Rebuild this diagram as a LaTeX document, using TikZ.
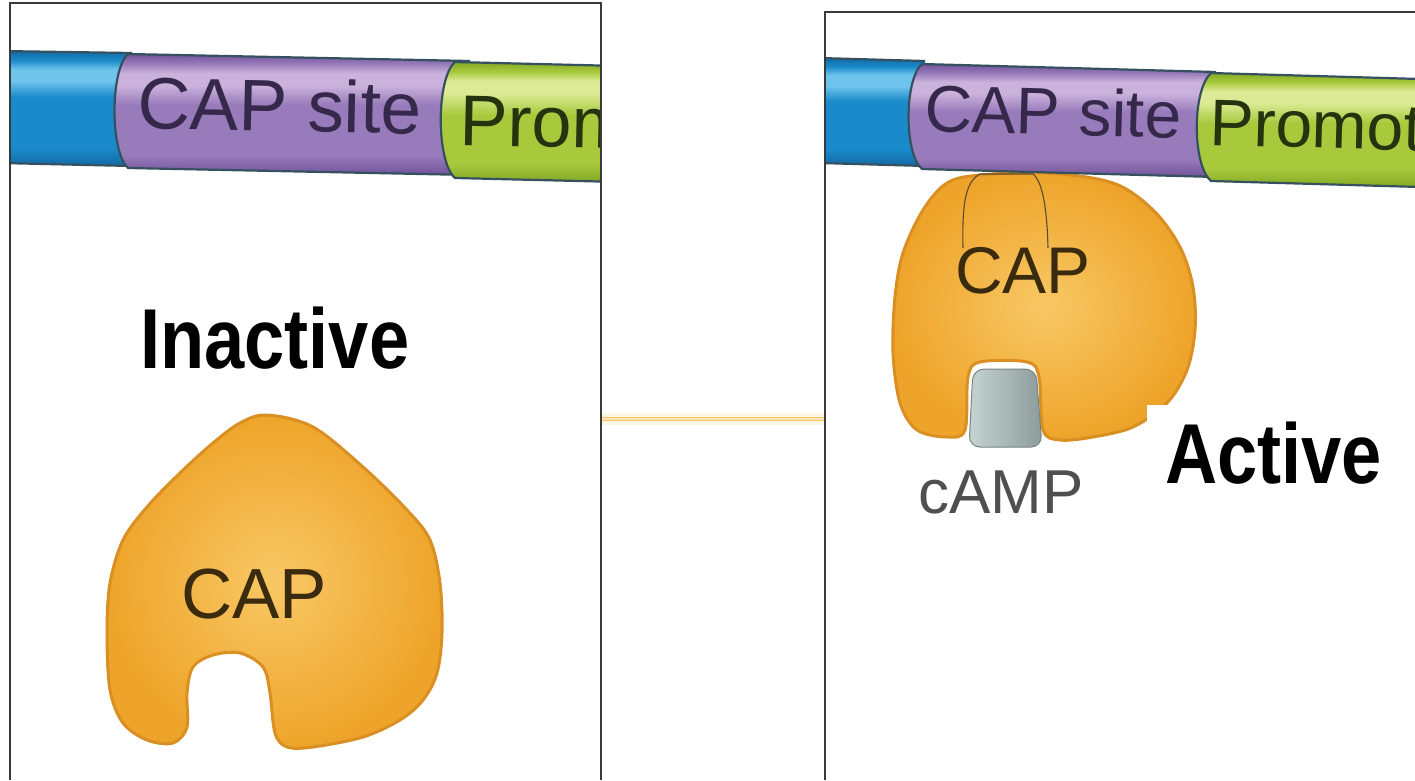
\documentclass[tikz,border=0pt]{standalone}
\usepackage{fontspec}
\setmainfont{Liberation Sans}
\newcommand\setfs[1]{\fontsize{#1}{#1}\selectfont}

\definecolor{frame}{HTML}{3A3A3A}
\definecolor{tubeedge}{HTML}{35505F}
\definecolor{bD}{HTML}{126AA6}
\definecolor{bM}{HTML}{1A8ACA}
\definecolor{bL}{HTML}{6FC4EC}
\definecolor{pD}{HTML}{70529A}
\definecolor{pM}{HTML}{987BBA}
\definecolor{pL}{HTML}{CBB2DC}
\definecolor{gD}{HTML}{82A824}
\definecolor{gM}{HTML}{A8C93C}
\definecolor{gL}{HTML}{DCEA95}
\definecolor{capIn}{HTML}{F8C865}
\definecolor{capOut}{HTML}{EEA42A}
\definecolor{capEdge}{HTML}{D98F22}
\definecolor{capText}{HTML}{3A2A0E}
\definecolor{siteText}{HTML}{35284A}
\definecolor{promText}{HTML}{27320E}
\definecolor{campText}{HTML}{4F4F4F}
\definecolor{glow}{HTML}{F6C664}
\definecolor{campL}{HTML}{C6D3D0}
\definecolor{campD}{HTML}{8C9B9B}

% tube shadings: the filled path spans 25bp (bottom) to 75bp (top)
\pgfdeclareverticalshading{tubeblue}{100bp}{color(0bp)=(bD); color(25bp)=(bD); color(33bp)=(bM); color(55bp)=(bM); color(62bp)=(bL); color(67bp)=(bL); color(71bp)=(bM); color(75bp)=(bD); color(100bp)=(bD)}
\pgfdeclareverticalshading{tubepurple}{100bp}{color(0bp)=(pD); color(25bp)=(pD); color(33bp)=(pM); color(54bp)=(pM); color(62bp)=(pL); color(67bp)=(pL); color(71bp)=(pM); color(75bp)=(pD); color(100bp)=(pD)}
\pgfdeclareverticalshading{tubegreen}{100bp}{color(0bp)=(gD); color(25bp)=(gD); color(33bp)=(gM); color(53bp)=(gM); color(62bp)=(gL); color(67bp)=(gL); color(71bp)=(gM); color(75bp)=(gD); color(100bp)=(gD)}

\tikzset{
  panelframe/.style={draw=frame, line width=1.5pt},
  tubeline/.style={draw=tubeedge, line width=2.2pt, line join=round},
  capbody/.style={inner color=capIn, outer color=capOut},
  capline/.style={draw=capEdge, line width=3pt},
  lbl/.style={inner sep=0pt, anchor=base west},
  bigbold/.style={inner sep=0pt, anchor=base west, text=black}
}

\begin{document}
\begin{tikzpicture}[x=1pt,y=-1pt]
\useasboundingbox (0,0) rectangle (1415,780);
\fill[white] (0,0) rectangle (1415,780);

% ---------------- left panel: free CAP ----------------
\begin{scope}
  \clip (10,3) rectangle (601,780);
  % DNA tube
  \shade[shading=tubeblue] (0,51) -- (132,53) -- (132,166) -- (0,163) -- cycle;
  \draw[tubeline] (0,51) -- (132,53) (0,163) -- (132,166);
  \shade[shading=tubepurple] (128,54) .. controls (110,70) and (110,152) .. (128,168)
        -- (470,175) -- (470,61) -- cycle;
  \draw[tubeline] (470,61) -- (128,54) .. controls (110,70) and (110,152) .. (128,168) -- (470,175);
  \shade[shading=tubegreen] (455,62) .. controls (436,78) and (436,162) .. (455,178)
        -- (620,182) -- (620,66) -- cycle;
  \draw[tubeline] (620,66) -- (455,62) .. controls (436,78) and (436,162) .. (455,178) -- (620,182);
  \node (siteL) [lbl, text=siteText, rotate=-1.2] at (137,128) {\setfs{73}CAP site};
  \node (promL) [lbl, text=promText, rotate=-1.2] at (459,145) {\setfs{72}Promoter};
\end{scope}

% CAP protein without cAMP
\shade[capbody] plot[smooth cycle, tension=0.55] coordinates {
  (267,415) (313,427) (363,467) (407,510) (430,540) (440,583) (442,633)
  (437,673) (423,700) (400,720) (363,737) (313,747) (287,747) (275,733)
  (270,693) (263,667) (240,653) (213,655) (193,667) (187,693) (187,727)
  (173,743) (147,740) (123,723) (110,690) (107,633) (110,583) (123,540)
  (147,507) (180,473) (213,443) (240,423)};
\draw[capline] plot[smooth cycle, tension=0.55] coordinates {
  (267,415) (313,427) (363,467) (407,510) (430,540) (440,583) (442,633)
  (437,673) (423,700) (400,720) (363,737) (313,747) (287,747) (275,733)
  (270,693) (263,667) (240,653) (213,655) (193,667) (187,693) (187,727)
  (173,743) (147,740) (123,723) (110,690) (107,633) (110,583) (123,540)
  (147,507) (180,473) (213,443) (240,423)};
\node (capL) [lbl, text=capText] at (181,618) {\setfs{71}CAP};
\node (inactive) [bigbold] at (140,368) {\scalebox{0.85}[1]{\setfs{85}\bfseries Inactive}};

\draw[panelframe] (10,780) -- (10,3) -- (601,3) -- (601,780);

% ---------------- right panel: CAP with cAMP on DNA ----------------
\begin{scope}
  \clip (825,12) rectangle (1415,780);
  % CAP protein bound under the CAP site
  \shade[capbody] plot[smooth cycle, tension=0.55] coordinates {
    (980,175) (1047,173) (1113,183) (1153,210) (1180,247) (1193,287) (1195,330)
    (1187,370) (1167,403) (1133,427) (1093,437) (1060,440) (1043,430) (1039,377)
    (1027,362) (980,362) (968,377) (965,430) (947,437) (917,430) (900,403)
    (893,353) (895,297) (903,253) (923,210) (947,183)};
  \draw[capline] plot[smooth cycle, tension=0.55] coordinates {
    (980,175) (1047,173) (1113,183) (1153,210) (1180,247) (1193,287) (1195,330)
    (1187,370) (1167,403) (1133,427) (1093,437) (1060,440) (1043,430) (1039,377)
    (1027,362) (980,362) (968,377) (965,430) (947,437) (917,430) (900,403)
    (893,353) (895,297) (903,253) (923,210) (947,183)};
  % DNA-reading loop
  \draw[draw=capText!85, line width=1.1pt]
    (963,248) .. controls (962,205) and (965,182) .. (980,174) -- (1033,174)
    .. controls (1043,182) and (1047,210) .. (1048,248);
  % bound cAMP
  \shade[left color=campL, right color=campD, draw=campD!85!black, line width=1pt,
         rounded corners=11pt]
    (969,447) -- (973,369) -- (1036,369) -- (1042,447) -- cycle;
  % DNA tube
  \shade[shading=tubeblue] (820,58) -- (925,61) -- (925,166) -- (820,163) -- cycle;
  \draw[tubeline] (820,58) -- (925,61) (820,163) -- (925,166);
  \shade[shading=tubepurple] (922,64) .. controls (904,80) and (904,154) .. (922,169)
        -- (1216,177) -- (1216,72) -- cycle;
  \draw[tubeline] (1216,72) -- (922,64) .. controls (904,80) and (904,154) .. (922,169) -- (1216,177);
  \shade[shading=tubegreen] (1211,73) .. controls (1192,90) and (1192,165) .. (1211,181)
        -- (1420,187) -- (1420,79) -- cycle;
  \draw[tubeline] (1420,79) -- (1211,73) .. controls (1192,90) and (1192,165) .. (1211,181) -- (1420,187);
  \node (siteR) [lbl, text=siteText, rotate=-1.6] at (924,131) {\setfs{66}CAP site};
  \node (promR) [lbl, text=promText, rotate=-1.6] at (1209,145) {\setfs{66}Promoter};
\end{scope}

\node (capR) [lbl, text=capText] at (955,293) {\setfs{66}CAP};
\node (camp) [lbl, text=campText] at (918,513) {\setfs{62}cAMP};
\fill[white] (1147,405) rectangle (1400,500);
\node (active) [bigbold] at (1165,483) {\scalebox{0.85}[1]{\setfs{85}\bfseries Active}};

\draw[panelframe] (825,780) -- (825,12) -- (1415,12);

% link between the two states
\coordinate (linkL) at (602,419);
\coordinate (linkR) at (824,419);
\draw[glow, line width=12pt, opacity=0.15] (linkL) -- (linkR);
\draw[glow, line width=4pt] (linkL) -- (linkR);
\draw[glow!45, line width=1.2pt] (linkL) -- (linkR);
\end{tikzpicture}
\end{document}
